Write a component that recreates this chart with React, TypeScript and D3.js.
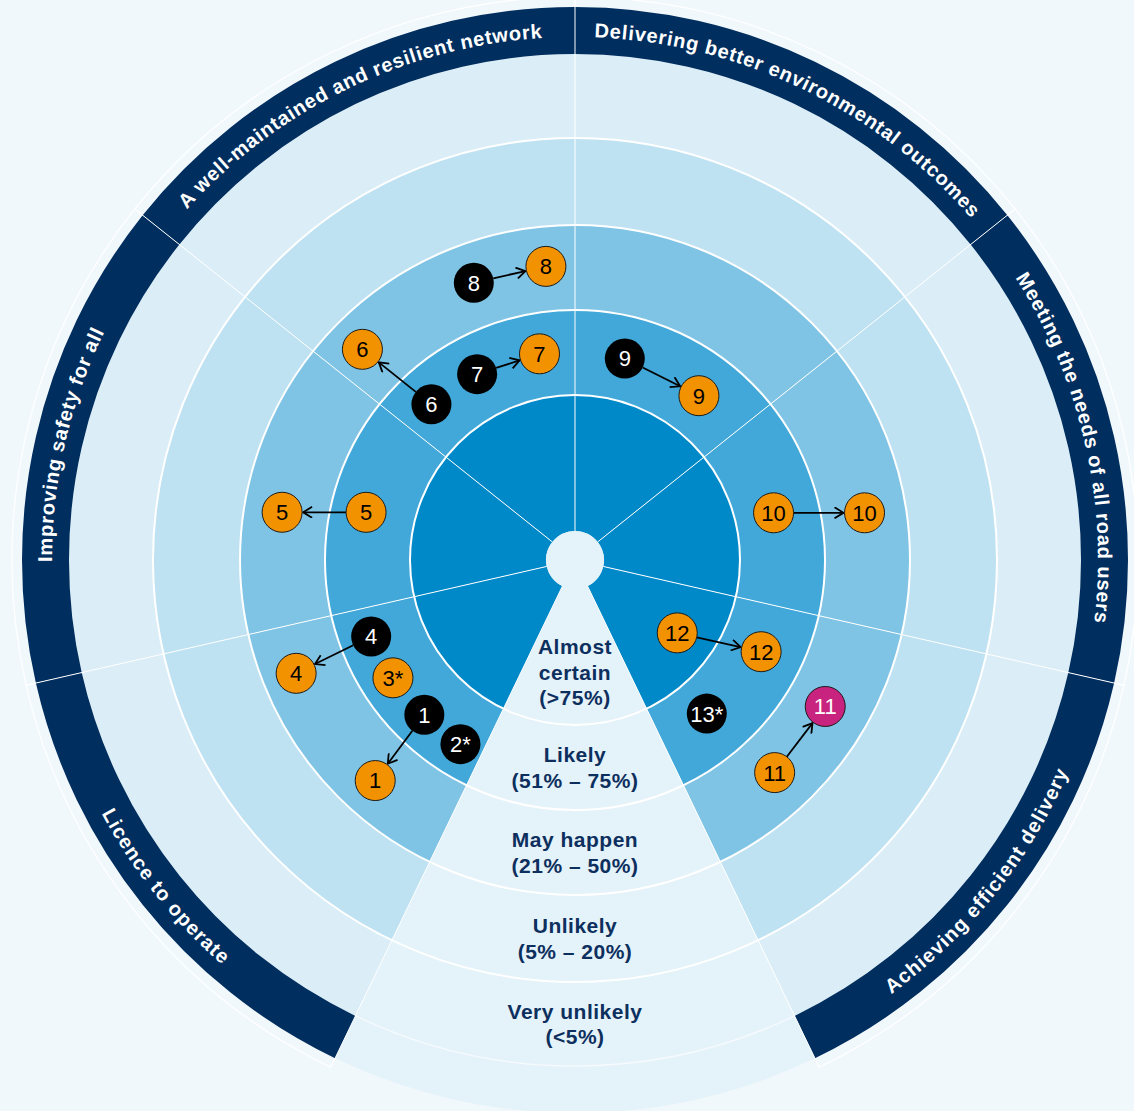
import React, { useEffect, useRef } from 'react';
import * as d3 from 'd3';

// sectors, clockwise from the top-left one; "key" is the likelihood wedge
const sectorKeys = ['network', 'environment', 'roadUsers', 'delivery', 'key', 'licence', 'safety'];
const sectorTitles = [
  'A well-maintained and resilient network',
  'Delivering better environmental outcomes',
  'Meeting the needs of all road users',
  'Achieving efficient delivery',
  '',
  'Licence to operate',
  'Improving safety for all',
];
// titles that run anticlockwise (bottom half)
const reversedTitles = ['delivery', 'licence'];

const likelihoodNames = [
  ['Almost', 'certain', '(>75%)'],
  ['Likely', '(51% – 75%)'],
  ['May happen', '(21% – 50%)'],
  ['Unlikely', '(5% – 20%)'],
  ['Very unlikely', '(<5%)'],
];
const ringFills = ['#0089c8', '#41a8d9', '#80c4e5', '#bee2f2', '#dbeef8'];

// along = position across the sector (0..1), level = ring position (0 = inner edge of "Almost certain")
const risks = [
  { id: '8-prev', label: '8', sector: 'network', along: 0.61, level: 2.53, status: 'previous' },
  { id: '8-now', label: '8', sector: 'network', along: 0.89, level: 2.53, status: 'current' },
  { id: '6-prev', label: '6', sector: 'network', along: 0.17, level: 1.55, status: 'previous' },
  { id: '6-now', label: '6', sector: 'network', along: 0.12, level: 2.58, status: 'current' },
  { id: '7-prev', label: '7', sector: 'network', along: 0.46, level: 1.53, status: 'previous' },
  { id: '7-now', label: '7', sector: 'network', along: 0.81, level: 1.52, status: 'current' },
  { id: '9-prev', label: '9', sector: 'environment', along: 0.27, level: 1.5, status: 'previous' },
  { id: '9-now', label: '9', sector: 'environment', along: 0.72, level: 1.48, status: 'current' },
  { id: '10-prev', label: '10', sector: 'roadUsers', along: 0.49, level: 1.46, status: 'current' },
  { id: '10-now', label: '10', sector: 'roadUsers', along: 0.57, level: 2.51, status: 'current' },
  { id: '12-prev', label: '12', sector: 'delivery', along: 0.44, level: 0.71, status: 'current' },
  { id: '12-now', label: '12', sector: 'delivery', along: 0.26, level: 1.5, status: 'current' },
  { id: '13', label: '13*', sector: 'delivery', along: 0.71, level: 1.44, status: 'previous' },
  { id: '11-prev', label: '11', sector: 'delivery', along: 0.66, level: 2.49, status: 'current' },
  { id: '11-now', label: '11', sector: 'delivery', along: 0.34, level: 2.47, status: 'new' },
  { id: '4-prev', label: '4', sector: 'licence', along: 0.85, level: 1.62, status: 'previous' },
  { id: '4-now', label: '4', sector: 'licence', along: 0.82, level: 2.6, status: 'current' },
  { id: '3', label: '3*', sector: 'licence', along: 0.61, level: 1.61, status: 'current' },
  { id: '1-prev', label: '1', sector: 'licence', along: 0.36, level: 1.6, status: 'previous' },
  { id: '1-now', label: '1', sector: 'licence', along: 0.32, level: 2.56, status: 'current' },
  { id: '2', label: '2*', sector: 'licence', along: 0.12, level: 1.61, status: 'previous' },
  { id: '5-prev', label: '5', sector: 'safety', along: 0.5, level: 1.58, status: 'current' },
  { id: '5-now', label: '5', sector: 'safety', along: 0.43, level: 2.55, status: 'current' },
];

const moves = [
  ['8-prev', '8-now'],
  ['6-prev', '6-now'],
  ['7-prev', '7-now'],
  ['9-prev', '9-now'],
  ['10-prev', '10-now'],
  ['12-prev', '12-now'],
  ['11-prev', '11-now'],
  ['4-prev', '4-now'],
  ['1-prev', '1-now'],
  ['5-prev', '5-now'],
];

const statusFill = { previous: '#000000', current: '#f39200', new: '#c8237e' };
const statusText = { previous: '#ffffff', current: '#000000', new: '#ffffff' };

const App = () => {
  const ref = useRef(null);

  useEffect(() => {
    d3.select(ref.current).selectAll('*').remove();

    const width = 1134;
    const height = 1111;
    const cx = 575;
    const cy = 560;
    const font = '"Liberation Sans", Arial, Helvetica, sans-serif';
    const navy = '#002e5e';
    const wedgeFill = '#e4f2f9';

    const svg = d3
      .select(ref.current)
      .append('svg')
      .attr('width', width)
      .attr('height', height)
      .style('position', 'absolute')
      .style('left', 0)
      .style('top', 0);

    svg.append('rect').attr('width', width).attr('height', height).attr('fill', '#f1f8fc');

    const g = svg.append('g').attr('transform', `translate(${cx},${cy})`);

    const step = (2 * Math.PI) / 7;
    const angle = d3.scaleBand().domain(sectorKeys).range([-step, 2 * Math.PI - step]);
    const radius = d3.scaleLinear().domain([0, 1, 2, 3, 4, 5]).range([29, 165, 250, 335, 422, 506]);
    const bandOuter = 553;
    const frameR = 563;
    const bw = angle.bandwidth();

    const pt = (a, r) => [r * Math.sin(a), -r * Math.cos(a)];
    const arc = d3.arc();

    // ring fills and navy bands
    sectorKeys.forEach((key) => {
      const a0 = angle(key);
      const a1 = a0 + bw;
      if (key === 'key') {
        g.append('path')
          .attr('d', arc({ innerRadius: 0, outerRadius: bandOuter, startAngle: a0, endAngle: a1 }))
          .attr('fill', wedgeFill);
        return;
      }
      ringFills.forEach((fill, i) => {
        g.append('path')
          .attr('d', arc({ innerRadius: radius(i), outerRadius: radius(i + 1), startAngle: a0, endAngle: a1 }))
          .attr('fill', fill);
      });
      g.append('path')
        .attr('d', arc({ innerRadius: radius(5), outerRadius: bandOuter, startAngle: a0, endAngle: a1 }))
        .attr('fill', navy);
    });

    // ring boundaries
    [1, 2, 3, 4].forEach((i) => {
      g.append('circle')
        .attr('r', radius(i))
        .attr('fill', 'none')
        .attr('stroke', '#ffffff')
        .attr('stroke-width', 2);
    });
    g.append('path')
      .attr('d', d3.arc()({ innerRadius: radius(5), outerRadius: radius(5), startAngle: angle('key'), endAngle: angle('key') + bw }))
      .attr('fill', 'none')
      .attr('stroke', '#ffffff')
      .attr('stroke-opacity', 0.6)
      .attr('stroke-width', 1.5);

    // sector dividers
    sectorKeys.forEach((key) => {
      const a = angle(key);
      const [x0, y0] = pt(a, radius(0));
      const [x1, y1] = pt(a, bandOuter);
      g.append('line')
        .attr('x1', x0)
        .attr('y1', y0)
        .attr('x2', x1)
        .attr('y2', y1)
        .attr('stroke', '#ffffff')
        .attr('stroke-width', 1);
    });

    // thin outer frames round the titled bands
    sectorKeys.forEach((key) => {
      if (key === 'key') return;
      const a0 = angle(key);
      const a1 = a0 + bw;
      const p0 = pt(a0, bandOuter);
      const p1 = pt(a0, frameR);
      const p2 = pt(a1, frameR);
      const p3 = pt(a1, bandOuter);
      g.append('path')
        .attr('d', `M${p0}L${p1}A${frameR},${frameR} 0 0 1 ${p2}L${p3}`)
        .attr('fill', 'none')
        .attr('stroke', '#ffffff')
        .attr('stroke-width', 1.2);
    });

    // centre hole
    g.append('circle').attr('r', radius(0)).attr('fill', wedgeFill);

    // band titles
    const titleR = 530;
    sectorKeys.forEach((key, i) => {
      if (key === 'key') return;
      const a0 = angle(key);
      const a1 = a0 + bw;
      const rev = reversedTitles.includes(key);
      const s = pt(rev ? a1 : a0, titleR);
      const e = pt(rev ? a0 : a1, titleR);
      const id = `title-path-${key}`;
      g.append('path')
        .attr('id', id)
        .attr('d', `M${s}A${titleR},${titleR} 0 0 ${rev ? 0 : 1} ${e}`)
        .attr('fill', 'none');
      g.append('text')
        .attr('font-family', font)
        .attr('font-size', 20)
        .attr('font-weight', 700)
        .attr('letter-spacing', 0.9)
        .attr('fill', '#ffffff')
        .attr('dy', '0.35em')
        .append('textPath')
        .attr('href', `#${id}`)
        .attr('startOffset', '50%')
        .attr('text-anchor', 'middle')
        .text(sectorTitles[i]);
    });

    // likelihood labels in the wedge
    const keyAngle = angle('key') + bw / 2;
    likelihoodNames.forEach((lines, i) => {
      const r = i === 0 ? radius(0.61) : radius(i + 0.5);
      const [x, y] = pt(keyAngle, r);
      const t = g
        .append('text')
        .attr('font-family', font)
        .attr('font-size', 21)
        .attr('font-weight', 700)
        .attr('letter-spacing', 0.5)
        .attr('fill', '#0d2f5e')
        .attr('text-anchor', 'middle');
      lines.forEach((line, k) => {
        t.append('tspan')
          .attr('x', x)
          .attr('y', y + (k - (lines.length - 1) / 2) * 25.5)
          .attr('dy', '0.36em')
          .text(line);
      });
    });

    // risk positions
    const pos = {};
    risks.forEach((d) => {
      pos[d.id] = pt(angle(d.sector) + d.along * bw, radius(d.level));
    });

    // arrowhead
    svg
      .append('defs')
      .append('marker')
      .attr('id', 'chevron')
      .attr('viewBox', '0 0 12 12')
      .attr('refX', 11)
      .attr('refY', 6)
      .attr('markerWidth', 12)
      .attr('markerHeight', 12)
      .attr('markerUnits', 'userSpaceOnUse')
      .attr('orient', 'auto')
      .append('path')
      .attr('d', 'M2,0.5L11,6L2,11.5')
      .attr('fill', 'none')
      .attr('stroke', '#000000')
      .attr('stroke-width', 1.8);

    const dotR = 20;
    moves.forEach(([from, to]) => {
      const [x0, y0] = pos[from];
      const [x1, y1] = pos[to];
      const len = Math.hypot(x1 - x0, y1 - y0);
      const ux = (x1 - x0) / len;
      const uy = (y1 - y0) / len;
      g.append('line')
        .attr('x1', x0 + ux * dotR)
        .attr('y1', y0 + uy * dotR)
        .attr('x2', x1 - ux * (dotR + 1))
        .attr('y2', y1 - uy * (dotR + 1))
        .attr('stroke', '#000000')
        .attr('stroke-width', 1.8)
        .attr('marker-end', 'url(#chevron)');
    });

    const dots = g
      .selectAll('g.risk')
      .data(risks)
      .join('g')
      .attr('class', 'risk')
      .attr('transform', (d) => `translate(${pos[d.id][0]},${pos[d.id][1]})`);

    dots
      .append('circle')
      .attr('r', dotR)
      .attr('fill', (d) => statusFill[d.status])
      .attr('stroke', '#1a1a1a')
      .attr('stroke-width', (d) => (d.status === 'previous' ? 0 : 1));

    dots
      .append('text')
      .attr('font-family', font)
      .attr('font-size', 22)
      .attr('text-anchor', 'middle')
      .attr('dy', '0.36em')
      .attr('fill', (d) => statusText[d.status])
      .text((d) => d.label);
  }, []);

  return <div ref={ref}></div>;
};

export default App;
